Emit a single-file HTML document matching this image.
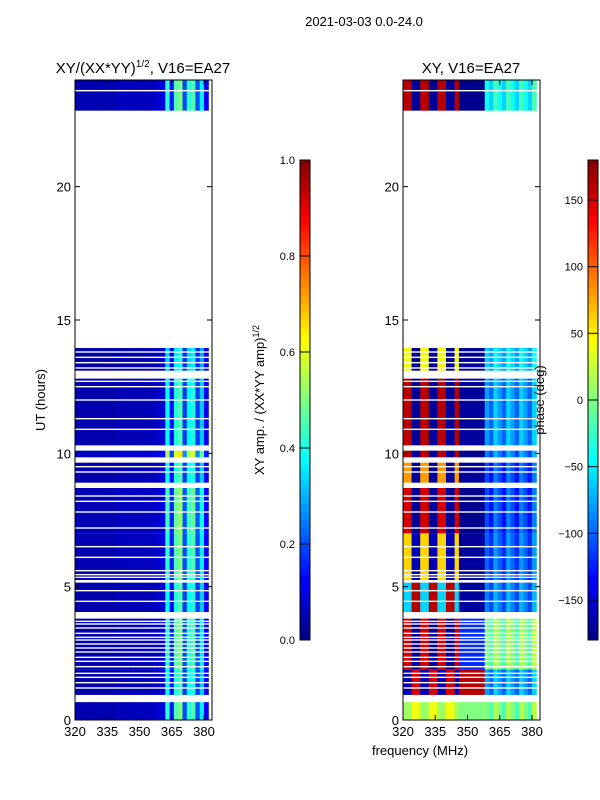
<!DOCTYPE html>
<html><head><meta charset="utf-8"><style>
html,body{margin:0;padding:0;background:#fff;}
svg{display:block;font-family:"Liberation Sans",sans-serif;}
</style></head><body>
<svg id="fig" width="600" height="800" viewBox="0 0 600 800">
<text x="364" y="26" font-size="13" text-anchor="middle">2021-03-03 0.0-24.0</text>
<text x="143" y="73" font-size="15" text-anchor="middle">XY/(XX*YY)<tspan font-size="10" dy="-6">1/2</tspan><tspan dy="6">, V16=EA27</tspan></text>
<text x="471" y="73" font-size="15" text-anchor="middle">XY, V16=EA27</text>
<text transform="translate(45,400) rotate(-90)" font-size="13" text-anchor="middle">UT (hours)</text>
<text x="420" y="755" font-size="13" text-anchor="middle">frequency (MHz)</text>
<text transform="translate(264,400) rotate(-90)" font-size="13" text-anchor="middle">XY amp. / (XX*YY amp)<tspan font-size="9" dy="-5">1/2</tspan></text>
<g id="amp"></g>
<g id="phs"></g>
<g id="axes"></g>
<text transform="translate(544,400) rotate(-90)" font-size="13" text-anchor="middle">phase (deg)</text>
</svg>
<script>
const freqBins=[320,322,324,326,328,330,332,334,336,338,340,342,344,346,348,350,352,354,356,358,360,362,364,366,368,370,372,374,376,378,380];
const ampProfile=[0.05,0.05,0.05,0.05,0.05,0.05,0.05,0.05,0.05,0.05,0.06,0.06,0.06,0.06,0.06,0.06,0.06,0.06,0.07,0.08,0.1,0.42,0.15,0.45,0.5,0.2,0.42,0.45,0.2,0.36,0.12];
const segStart=[0,0.94,1.9,4.05,5.25,7.0,8.9,9.85,10.3,13.1,22.85];
const segEnd=[0.67,1.9,3.8,5.15,7.0,8.7,9.65,10.1,12.8,13.95,24];
const segGain=[1.0,0.9,1.0,0.9,1.0,1.05,0.9,1.3,0.9,0.8,1.0];
const phaseLeft=[10,-160,150,-60,60,150,80,160,160,40,160];
const phaseLeftAlt=[40,150,-170,160,-160,-170,-170,-170,-170,-170,-170];
const phaseMid=[0,160,-120,-170,-170,-175,-170,-175,-170,-170,-175];
const phaseRight=[20,-60,20,-70,-80,-90,-90,-70,-60,-40,-20];
const gapLines=[1.2,1.4,1.6,1.75,2.0,2.2,2.35,2.55,2.7,2.85,3.0,3.1,3.25,3.45,3.6,3.7,4.45,4.85,5.35,5.45,5.6,6.1,6.5,7.2,7.8,8.2,8.4,9.3,9.5,10.9,11.3,12.0,12.5,12.7,13.2,13.4,13.6,13.8,23.6];
const hourTicks=[0,5,10,15,20];
const freqTicks=[320,335,350,365,380];
const ampTicks=[0.0,0.2,0.4,0.6,0.8,1.0];
const phaseTicks=[-150,-100,-50,0,50,100,150];

const NS="http://www.w3.org/2000/svg";
function jet(v){v=Math.max(0,Math.min(1,v));
 const r=Math.min(4*v-1.5,-4*v+4.5),g=Math.min(4*v-0.5,-4*v+3.5),b=Math.min(4*v+0.5,-4*v+2.5);
 const c=x=>Math.round(255*Math.max(0,Math.min(1,x)));return `rgb(${c(r)},${c(g)},${c(b)})`;}
const yOf=h=>720-h*(640/24);
function xOf(f,x0){return x0+(f-320)*(129/60);}
function mk(tag,attrs,parent){const e=document.createElementNS(NS,tag);for(const k in attrs)e.setAttribute(k,attrs[k]);parent.appendChild(e);return e;}
const ampG=document.getElementById('amp'),phsG=document.getElementById('phs'),axG=document.getElementById('axes');
function wrap(p){while(p>180)p-=360;while(p<-180)p+=360;return p;}
for(let s=0;s<segStart.length;s++){
 for(let c=0;c<freqBins.length;c++){
  const f=freqBins[c];
  const a=ampProfile[c]*segGain[s];
  const r1=mk('rect',{x:xOf(f,75),y:yOf(segEnd[s]),width:129/30+0.5,height:yOf(segStart[s])-yOf(segEnd[s]),fill:jet(a)},ampG);
  
  
  let p;
  if(f<346){p=(Math.floor(c/2)%2===0)?phaseLeft[s]:phaseLeftAlt[s];}
  else if(f<358){p=phaseMid[s];}
  else {p=phaseRight[s]-(c%3)*20;}
  const r2=mk('rect',{x:xOf(f,403),y:yOf(segEnd[s]),width:129/30+0.5,height:yOf(segStart[s])-yOf(segEnd[s]),fill:jet((wrap(p)+180)/360)},phsG);
  
  
 }
}
for(const h of gapLines){
 for(const x0 of [75,403]){
  const l=mk('rect',{x:x0,y:yOf(h)-0.7,width:137,height:1.4,fill:'#fff'},axG);
  
  
 }
}
for(const x0 of [75,403]){
 const fr=mk('rect',{x:x0,y:80,width:137,height:640,fill:'none',stroke:'#000','stroke-width':1},axG);
 
 
 for(const h of hourTicks){const y=yOf(h);
  mk('line',{x1:x0,x2:x0+5,y1:y,y2:y,stroke:'#000'},axG);
  mk('line',{x1:x0+137,x2:x0+132,y1:y,y2:y,stroke:'#000'},axG);
  const t=mk('text',{x:x0-4,y:y+5,'font-size':13,'text-anchor':'end'},axG);t.textContent=h;
  
  }
 for(const f of freqTicks){const x=xOf(f,x0);
  mk('line',{x1:x,x2:x,y1:720,y2:715,stroke:'#000'},axG);
  mk('line',{x1:x,x2:x,y1:80,y2:85,stroke:'#000'},axG);
  const t=mk('text',{x:x,y:736,'font-size':13,'text-anchor':'middle'},axG);t.textContent=f;
  
  }
}
function colorbar(x0,ticks,lo,hi,fmt){
 for(let i=0;i<120;i++){mk('rect',{x:x0,y:640-(i+1)*4,width:10,height:4.3,fill:jet((i+0.5)/120)},axG);}
 const b=mk('rect',{x:x0,y:160,width:10,height:480,fill:'none',stroke:'#000'},axG);
 
 
 for(const v of ticks){const y=640-(v-lo)/(hi-lo)*480;
  mk('line',{x1:x0,x2:x0+10,y1:y,y2:y,stroke:'#000'},axG);
  const t=mk('text',{x:x0-5,y:y+4,'font-size':11,'text-anchor':'end'},axG);t.textContent=fmt(v);
  
  }
}
colorbar(300,ampTicks,0,1,v=>v.toFixed(1));
colorbar(588,phaseTicks,-180,180,v=>v<0?'\u2212'+(-v):String(v));
</script>
</body></html>
